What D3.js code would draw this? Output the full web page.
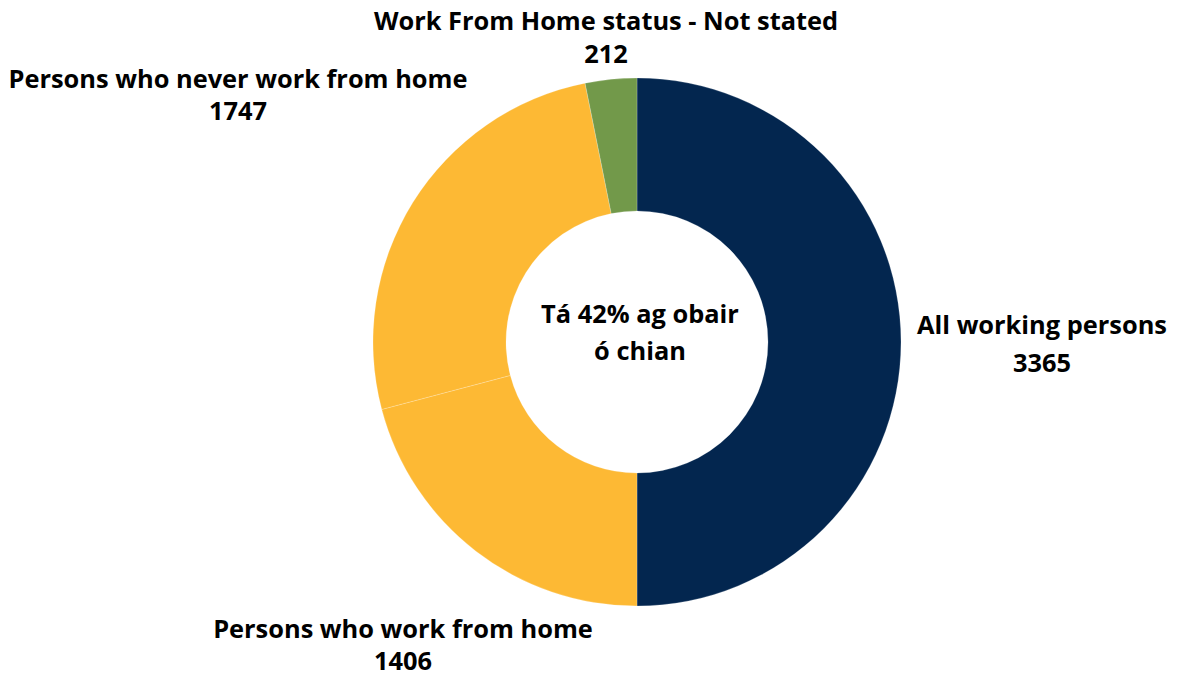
<!DOCTYPE html>
<html>
<head>
<meta charset="utf-8">
<script src="https://cdn.jsdelivr.net/npm/d3@7"></script>
<style>
  html, body { margin: 0; padding: 0; background: #fff; }
  svg { display: block; }
  text { font-family: "Open Sans", "Noto Sans", sans-serif; font-weight: bold; fill: #000; }
</style>
</head>
<body>
<svg id="chart" width="1181" height="677"></svg>
<script>
const categories = ["All working persons", "Persons who work from home", "Persons who never work from home", "Work From Home status - Not stated"];
const values = [3365, 1406, 1747, 212];
const colors = ["#03264F", "#FDB934", "#FDB934", "#72994A"];
const centerLines = ["Tá 42% ag obair", "ó chian"];

const W = 1181, H = 677;
const cx = 637, cy = 342, outerR = 264, innerR = 131;
const svg = d3.select("#chart");
const g = svg.append("g").attr("transform", `translate(${cx},${cy})`);

const data = categories.map((c, i) => ({ name: c, value: values[i], color: colors[i] }));
const pie = d3.pie().value(d => d.value).sort(null);
const arc = d3.arc().innerRadius(innerR).outerRadius(outerR);
const arcs = pie(data);

g.selectAll("path").data(arcs).enter().append("path")
  .attr("d", arc)
  .attr("fill", d => d.data.color)
  .attr("stroke", "rgba(255,255,255,0.35)")
  .attr("stroke-width", 0.6);

// label anchor positions (centre x, baseline of first line, line gap)
const labelPos = [
  { x: 1042, y: 334, gap: 38 },
  { x: 403, y: 638, gap: 32 },
  { x: 238, y: 88, gap: 32 },
  { x: 606, y: 30, gap: 33 }
];
const fs = 25.4;

arcs.forEach((a, i) => {
  const p = labelPos[i];
  const t = svg.append("text").attr("text-anchor", "middle").style("font-size", fs + "px");
  t.append("tspan").attr("x", p.x).attr("y", p.y).text(a.data.name);
  t.append("tspan").attr("x", p.x).attr("y", p.y + p.gap).text(String(a.data.value));
});

const ct = svg.append("text").attr("text-anchor", "middle").style("font-size", fs + "px");
centerLines.forEach((l, i) => {
  ct.append("tspan").attr("x", cx + 3).attr("y", 323 + i * 37).text(l);
});
</script>
</body>
</html>
